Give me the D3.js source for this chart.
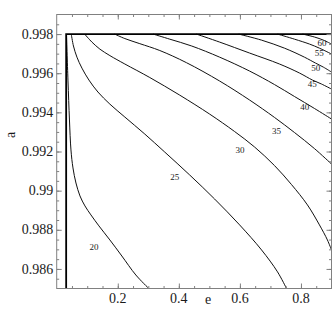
<!DOCTYPE html>
<html>
<head>
<meta charset="utf-8">
<script src="https://cdn.jsdelivr.net/npm/d3@7"></script>
<style>
  body { margin: 0; background: #fff; }
  svg text { font-family: "Liberation Serif", "Times New Roman", serif; fill: #1a1a1a; }
</style>
</head>
<body>
<div id="chart"></div>
<script>
// Contour lines of the (e, a) plane, each as [e, a] points
const levels = [20, 25, 30, 35, 40, 45, 50, 55, 60];

const c20 = [[0.032,0.998],[0.0369,0.99565],[0.0418,0.99361],[0.0467,0.99208],[0.0533,0.99116],
  [0.0631,0.99039],[0.0762,0.98973],[0.0925,0.98922],[0.1121,0.98876],[0.1382,0.9882],
  [0.1742,0.98748],[0.2134,0.98666],[0.2592,0.98569],[0.3016,0.985]];
const c25 = [[0.0477,0.998],[0.0549,0.99739],[0.0663,0.99682],[0.0827,0.99626],[0.1056,0.99565],
  [0.1350,0.99504],[0.1742,0.99442],[0.2232,0.99376],[0.2886,0.99289],[0.3539,0.99197],
  [0.4356,0.9908],[0.5173,0.98957],[0.5990,0.98825],[0.6709,0.98697],[0.7232,0.98585],[0.7526,0.985]];
const c30 = [[0.0915,0.998],[0.1154,0.99759],[0.1415,0.99723],[0.1742,0.9969],[0.2232,0.99647],
  [0.3049,0.99578],[0.4029,0.99488],[0.5010,0.99391],[0.5827,0.99302],[0.6480,0.99223],
  [0.7134,0.99128],[0.7690,0.99031],[0.8212,0.98927],[0.8605,0.98825],[0.8866,0.98748],[0.9,0.98697]];
const c35 = [[0.1895,0.998],[0.2232,0.99777],[0.2722,0.99751],[0.3376,0.99716],[0.4248,0.99654],
  [0.5337,0.9956],[0.6317,0.99463],[0.7134,0.99374],[0.7788,0.99297],[0.8441,0.99215],[0.9,0.99136]];
const c40 = [[0.3157,0.998],[0.3703,0.99774],[0.4422,0.99739],[0.5337,0.99682],[0.6317,0.99611],
  [0.7134,0.99542],[0.7788,0.99481],[0.8441,0.9942],[0.9,0.99366]];
const c45 = [[0.4575,0.998],[0.5337,0.99759],[0.6317,0.99703],[0.7297,0.99647],[0.7951,0.99601],
  [0.8376,0.99565],[0.8670,0.99545],[0.9,0.99519]];
const c50 = [[0.5958,0.998],[0.6709,0.99769],[0.7461,0.99728],[0.8114,0.99682],[0.8474,0.99652],
  [0.8735,0.99631],[0.9,0.99606]];
const c55 = [[0.7232,0.998],[0.7788,0.99774],[0.8278,0.99749],[0.8605,0.99728],[0.9,0.99698]];
const c60 = [[0.8049,0.998],[0.8441,0.99785],[0.8735,0.99769],[0.9,0.99749]];
const contours = [c20, c25, c30, c35, c40, c45, c50, c55, c60];

// label positions (data units)
const labelE = [0.1219, 0.3866, 0.6007, 0.7199, 0.8124, 0.8366, 0.8484, 0.8595, 0.8686];
const labelA = [0.98712, 0.99072, 0.99208, 0.99303, 0.99426, 0.99545, 0.99626, 0.99703, 0.99754];

// boundary lines
const edgeE = 0.031;
const topA = 0.998;

// axes
const xDomain = [0, 0.9];
const yDomain = [0.985, 0.999];
const xTicks = [0.2, 0.4, 0.6, 0.8];
const xTickLabels = ["0.2", "0.4", "0.6", "0.8"];
const xMinor = d3.range(0.05, 0.9, 0.05);
const yTicks = [0.986, 0.988, 0.99, 0.992, 0.994, 0.996, 0.998];
const yTickLabels = ["0.986", "0.988", "0.99", "0.992", "0.994", "0.996", "0.998"];
const yMinor = d3.range(0.9855, 0.999, 0.0005);

const width = 332, height = 320;
const margin = { top: 14.5, right: 0.5, bottom: 31.5, left: 56.7 };

const svg = d3.select('#chart').append('svg')
    .attr('width', width)
    .attr('height', height);

const x = d3.scaleLinear().domain(xDomain).range([margin.left, width - margin.right]);
const y = d3.scaleLinear().domain(yDomain).range([height - margin.bottom, margin.top]);

const line = d3.line()
    .x(d => x(d[0]))
    .y(d => y(d[1]))
    .curve(d3.curveCatmullRom.alpha(0.5));

// contours
svg.append('g')
    .selectAll('path')
    .data(contours)
    .enter().append('path')
    .attr('d', line)
    .attr('fill', 'none')
    .attr('stroke', '#111')
    .attr('stroke-width', 1);

// heavy boundary lines
svg.append('path')
    .attr('d', d3.line()([[x(edgeE), y(yDomain[0])], [x(edgeE), y(topA)], [x(xDomain[1]), y(topA)]]))
    .attr('fill', 'none')
    .attr('stroke', '#000')
    .attr('stroke-width', 1.8);

// contour labels
svg.append('g')
    .selectAll('text')
    .data(levels)
    .enter().append('text')
    .attr('x', (d, i) => x(labelE[i]))
    .attr('y', (d, i) => y(labelA[i]))
    .attr('dy', '0.35em')
    .attr('text-anchor', 'middle')
    .attr('font-size', '9px')
    .text(d => d);

// frame
svg.append('rect')
    .attr('x', margin.left)
    .attr('y', margin.top)
    .attr('width', width - margin.right - margin.left)
    .attr('height', height - margin.bottom - margin.top)
    .attr('fill', 'none')
    .attr('stroke', '#808080')
    .attr('stroke-width', 1);

function ticks(axis, scale, vals, size, tx, ty) {
    const g = svg.append('g')
        .attr('transform', `translate(${tx},${ty})`)
        .call(axis(scale).tickValues(vals).tickSizeInner(-size).tickSizeOuter(0).tickFormat(''));
    g.select('.domain').remove();
    g.selectAll('line').attr('stroke', '#808080');
    g.selectAll('text').remove();
}

const bottom = height - margin.bottom, right = width - margin.right;
ticks(d3.axisBottom, x, xMinor, 2.5, 0, bottom);
ticks(d3.axisBottom, x, xTicks, 5, 0, bottom);
ticks(d3.axisTop, x, xMinor, 2.5, 0, margin.top);
ticks(d3.axisTop, x, xTicks, 5, 0, margin.top);
ticks(d3.axisLeft, y, yMinor, 2.5, margin.left, 0);
ticks(d3.axisLeft, y, yTicks, 5, margin.left, 0);
ticks(d3.axisRight, y, yMinor, 2.5, right, 0);
ticks(d3.axisRight, y, yTicks, 5, right, 0);

// tick labels
svg.append('g')
    .selectAll('text')
    .data(xTicks)
    .enter().append('text')
    .attr('x', d => x(d))
    .attr('y', bottom + 14.5)
    .attr('text-anchor', 'middle')
    .attr('font-size', '14px')
    .text((d, i) => xTickLabels[i]);

svg.append('g')
    .selectAll('text')
    .data(yTicks)
    .enter().append('text')
    .attr('x', margin.left - 3.5)
    .attr('y', d => y(d))
    .attr('dy', '0.33em')
    .attr('text-anchor', 'end')
    .attr('font-size', '14px')
    .text((d, i) => yTickLabels[i]);

// axis titles
svg.append('text')
    .attr('x', 208)
    .attr('y', 304)
    .attr('text-anchor', 'middle')
    .attr('font-size', '14px')
    .text('e');

svg.append('text')
    .attr('transform', 'translate(15,135) rotate(-90)')
    .attr('text-anchor', 'middle')
    .attr('font-size', '14px')
    .text('a');
</script>
</body>
</html>
